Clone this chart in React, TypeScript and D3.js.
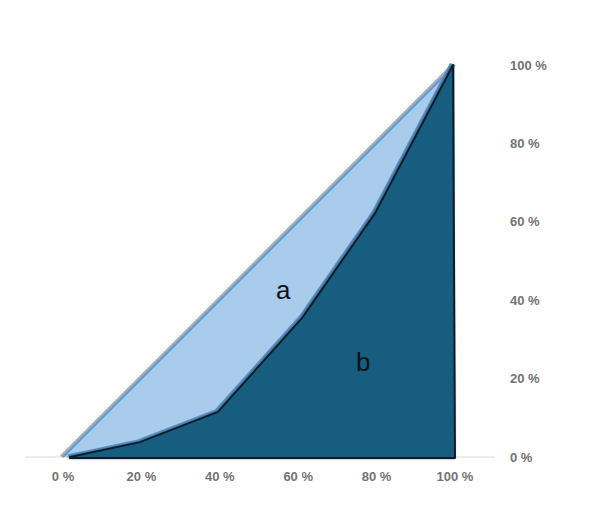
import React from "react";
import * as d3 from "d3";

const tickValues = [0, 20, 40, 60, 80, 100];
const tickLabels = ["0 %", "20 %", "40 %", "60 %", "80 %", "100 %"];
// Line of equality
const equalityX = [0, 100];
const equalityY = [0, 100];
// Lorenz curve (cumulative share of population vs. income)
const lorenzX = [1.8, 19.6, 39.5, 61, 79.6, 99.5];
const lorenzY = [0, 3.8, 11.5, 35.5, 62.2, 100];
const areaLabels = ["a", "b"];
const areaLabelPos = [
  [56.2, 42.6],
  [76.6, 24.2],
];

const W = 590;
const H = 521;

export default function App() {
  const x = d3.scaleLinear().domain([0, 100]).range([63, 455]);
  const y = d3.scaleLinear().domain([0, 100]).range([457, 65]);

  const eq = equalityX.map((v, i) => [x(v), y(equalityY[i])] as [number, number]);
  const lor = lorenzX.map((v, i) => [x(v), y(lorenzY[i])] as [number, number]);
  const line = d3.line();

  // light triangle: diagonal + right side + bottom
  const lightPts: [number, number][] = [eq[0], eq[1], [x(100), y(0)]];
  // dark polygon: lorenz curve down to bottom right
  const darkPts: [number, number][] = [...lor, [x(100), y(0) + 1], [lor[0][0], y(0) + 1]];

  const font = "'Liberation Sans', Arial, sans-serif";

  return (
    <svg
      width={W}
      height={H}
      style={{ position: "absolute", left: 0, top: 0, background: "#fff" }}
    >
      <defs>
        <filter id="sh" x="-10%" y="-10%" width="120%" height="120%">
          <feGaussianBlur in="SourceAlpha" stdDeviation="1" />
          <feOffset dx="-1.5" dy="0" result="b" />
          <feFlood floodColor="#000" floodOpacity="0.45" />
          <feComposite in2="b" operator="in" />
          <feMerge>
            <feMergeNode />
            <feMergeNode in="SourceGraphic" />
          </feMerge>
        </filter>
      </defs>
      {/* baseline gridline */}
      <line x1={25} x2={495} y1={y(0)} y2={y(0)} stroke="#d9d9d9" strokeWidth={1} />

      {/* light area */}
      <path d={line(lightPts) + "Z"} fill="#a9cbec" />
      {/* shadow of diagonal */}
      <path
        d={line(eq) || ""}
        transform="translate(-2,-0.5)"
        stroke="#9a9a9a"
        strokeWidth={3}
        fill="none"
        opacity={0.8}
      />
      <path d={line(eq) || ""} stroke="#5b9bd5" strokeWidth={2} fill="none" />
      {/* blue outline along the curve */}
      <path
        d={line(lor) || ""}
        transform="translate(-2,-1.5)"
        stroke="#5b9bd5"
        strokeWidth={2.5}
        fill="none"
        strokeLinejoin="round"
      />

      {/* dark area */}
      <path
        d={line(darkPts) + "Z"}
        fill="#175d80"
        stroke="#0b1e2a"
        strokeWidth={2}
        strokeLinejoin="round"
        filter="url(#sh)"
      />

      {/* area labels */}
      {areaLabels.map((t, i) => (
        <text
          key={t}
          x={x(areaLabelPos[i][0])}
          y={y(areaLabelPos[i][1])}
          textAnchor="middle"
          dominantBaseline="central"
          fontFamily={font}
          fontSize={26}
          fill="#111"
        >
          {t}
        </text>
      ))}

      {/* x tick labels */}
      {tickValues.map((v, i) => (
        <text
          key={"x" + v}
          x={x(v)}
          y={476}
          textAnchor="middle"
          dominantBaseline="central"
          fontFamily={font}
          fontWeight="bold"
          fontSize={13}
          fill="#737373"
        >
          {tickLabels[i]}
        </text>
      ))}
      {/* y tick labels */}
      {tickValues.map((v, i) => (
        <text
          key={"y" + v}
          x={510}
          y={y(v)}
          textAnchor="start"
          dominantBaseline="central"
          fontFamily={font}
          fontWeight="bold"
          fontSize={13}
          fill="#737373"
        >
          {tickLabels[i]}
        </text>
      ))}
    </svg>
  );
}
